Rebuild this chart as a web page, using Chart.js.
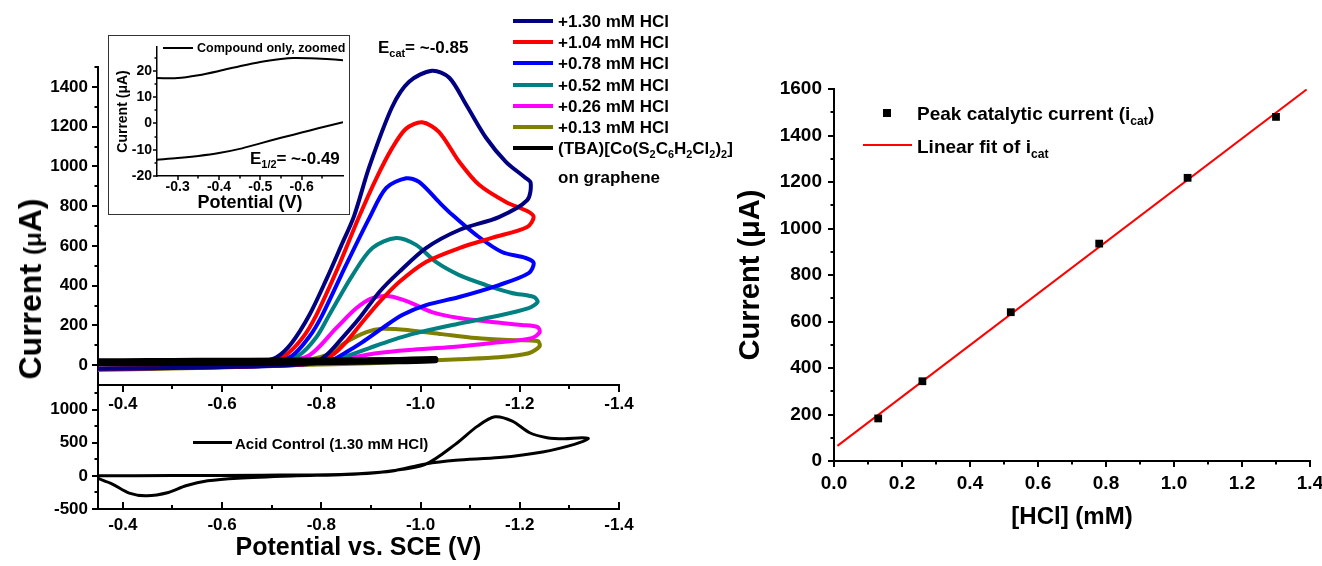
<!DOCTYPE html>
<html>
<head>
<meta charset="utf-8">
<title>Catalytic current vs HCl</title>
<script src="https://cdn.jsdelivr.net/npm/chart.js@4.4.0/dist/chart.umd.min.js"></script>
<style>
  html, body { margin: 0; padding: 0; background: #fff; overflow: hidden; }
  body { position: relative; width: 1322px; height: 566px;
         font-family: "Liberation Sans", Arial, sans-serif; color: #000; }
  canvas { position: absolute; }
  .inset { position: absolute; left: 108px; top: 35px; width: 242px; height: 180px;
           box-sizing: border-box; border: 1px solid #333; background: #fff; }
  .inset canvas { left: 0; top: -10px; }
  .lbl { position: absolute; white-space: nowrap; font-weight: bold; line-height: 1;
         transform: translateY(-50%); }
  .lbl sub { font-size: 0.64em; line-height: 0; vertical-align: -0.42em; }
  .swatch { position: absolute; }
  .ytitle { position: absolute; white-space: nowrap; font-weight: bold; font-size: 32px; line-height: 1;
            transform: translate(-50%, -50%) rotate(-90deg); }
</style>
</head>
<body>
<canvas id="cvMain" width="680" height="430" style="left:0;top:0"></canvas>
<canvas id="cvAcid" width="680" height="211" style="left:0;top:355px"></canvas>
<div class="inset"><canvas id="cvInset" width="240" height="188"></canvas></div>
<canvas id="cvFit" width="660" height="566" style="left:690px;top:0"></canvas>

<div class="ytitle" style="left:30px;top:289px">Current <span style="font-size:24px">(μ</span>A)</div>
<div class="lbl" style="left:378px;top:47px;font-size:17px">E<sub>cat</sub>= ~-0.85</div>
<div class="lbl" style="left:250px;top:158px;font-size:17px">E<sub>1/2</sub>= ~-0.49</div>
<div class="swatch" style="left:163px;top:47px;width:30px;height:2px;background:#000"></div>
<div class="lbl" style="left:197px;top:48px;font-size:12.5px">Compound only, zoomed</div>
<div class="swatch" style="left:193px;top:441px;width:39px;height:3px;background:#000"></div>
<div class="lbl" style="left:235px;top:443px;font-size:15px">Acid Control (1.30 mM HCl)</div>
<div class="swatch" style="left:883px;top:109px;width:8px;height:8px;background:#000"></div>
<div class="lbl" style="left:917px;top:113px;font-size:19px">Peak catalytic current (i<sub>cat</sub>)</div>
<div class="swatch" style="left:863px;top:144px;width:49px;height:2px;background:#f00"></div>
<div class="lbl" style="left:917px;top:146px;font-size:19px">Linear fit of i<sub>cat</sub></div>
<div id="keys"></div>

<script>
// ---- CV loops on graphene, potential (V vs SCE) / current (uA) ----
const pot130 = [-0.35, -0.55, -0.68, -0.71, -0.74, -0.776, -0.81, -0.84, -0.866, -0.897, -0.943, -0.977, -1.023, -1.058, -1.092, -1.132, -1.172, -1.21, -1.222, -1.215, -1.158, -1.078, -1.011, -0.957, -0.917, -0.877, -0.842, -0.81, -0.78, -0.68, -0.5, -0.35];
const cur130 = [15, 18, 22, 40, 110, 252, 430, 600, 750, 1000, 1300, 1426, 1481, 1446, 1310, 1144, 1023, 945, 917, 830, 745, 680, 589, 469, 368, 237, 136, 50, 10, -5, -15, -18];

const pot104 = [-0.35, -0.55, -0.69, -0.725, -0.76, -0.79, -0.836, -0.875, -0.91, -0.943, -0.971, -1.003, -1.037, -1.078, -1.118, -1.172, -1.215, -1.228, -1.215, -1.144, -1.078, -1.011, -0.957, -0.917, -0.883, -0.85, -0.822, -0.79, -0.68, -0.5, -0.35];
const cur104 = [15, 18, 22, 45, 130, 252, 504, 740, 935, 1093, 1190, 1222, 1174, 1023, 907, 821, 775, 745, 695, 640, 589, 519, 418, 317, 217, 116, 50, 10, -5, -15, -18];

const pot078 = [-0.35, -0.55, -0.70, -0.74, -0.775, -0.802, -0.85, -0.897, -0.931, -0.971, -0.997, -1.037, -1.064, -1.112, -1.164, -1.212, -1.228, -1.218, -1.158, -1.078, -1.011, -0.963, -0.923, -0.883, -0.85, -0.82, -0.75, -0.6, -0.35];
const cur078 = [15, 18, 22, 45, 140, 252, 504, 741, 892, 940, 922, 821, 756, 655, 569, 539, 514, 463, 403, 343, 302, 252, 186, 116, 65, 25, 0, -10, -18];

const pot052 = [-0.35, -0.55, -0.71, -0.755, -0.79, -0.816, -0.863, -0.903, -0.951, -0.991, -1.031, -1.078, -1.132, -1.184, -1.228, -1.236, -1.218, -1.144, -1.064, -0.991, -0.943, -0.897, -0.857, -0.82, -0.75, -0.6, -0.35];
const cur052 = [15, 18, 22, 50, 140, 252, 453, 589, 640, 605, 519, 453, 403, 363, 343, 318, 287, 242, 202, 161, 126, 86, 50, 25, 5, -10, -18];

const pot026 = [-0.35, -0.55, -0.72, -0.776, -0.83, -0.871, -0.903, -0.937, -0.977, -1.023, -1.078, -1.144, -1.204, -1.236, -1.24, -1.224, -1.144, -1.064, -0.977, -0.911, -0.863, -0.8, -0.7, -0.5, -0.35];
const cur026 = [15, 18, 22, 50, 186, 287, 337, 346, 317, 267, 237, 217, 202, 191, 165, 136, 111, 91, 76, 60, 40, 25, 5, -12, -20];

const pot013 = [-0.35, -0.55, -0.75, -0.81, -0.85, -0.891, -0.923, -0.977, -1.043, -1.112, -1.178, -1.236, -1.24, -1.218, -1.158, -1.078, -1.031, -0.9, -0.75, -0.6, -0.45, -0.35];
const cur013 = [15, 18, 22, 50, 116, 166, 183, 176, 156, 136, 126, 121, 95, 60, 40, 30, 25, 10, 0, -12, -20, -25];

// compound alone, same scale
const potCpd = [-0.35, -0.45, -0.55, -0.65, -0.8, -0.95, -1.03, -1.03, -0.95, -0.8, -0.7, -0.6, -0.5, -0.4, -0.35];
const curCpd = [22, 23, 24, 25, 26, 28, 33, 22, 17, 12, 10, 9, 8, 7, 7];

const seriesLabels = ['+1.30 mM HCl', '+1.04 mM HCl', '+0.78 mM HCl', '+0.52 mM HCl', '+0.26 mM HCl', '+0.13 mM HCl',
  '(TBA)[Co(S<sub>2</sub>C<sub>6</sub>H<sub>2</sub>Cl<sub>2</sub>)<sub>2</sub>]'];
const seriesPot = [pot130, pot104, pot078, pot052, pot026, pot013, potCpd];
const seriesCur = [cur130, cur104, cur078, cur052, cur026, cur013, curCpd];

// acid without catalyst
const potAcid = [-0.35, -0.5, -0.68, -0.85, -0.94, -1.01, -1.07, -1.115, -1.15, -1.185, -1.22, -1.255, -1.29, -1.325, -1.338, -1.31, -1.246, -1.159, -1.071, -1.01, -0.94, -0.85, -0.75, -0.632, -0.571, -0.527, -0.492, -0.448, -0.413, -0.378, -0.35];
const curAcid = [0, 5, 10, 25, 75, 175, 475, 750, 890, 825, 650, 575, 560, 575, 560, 475, 360, 275, 235, 180, 70, 20, 0, -35, -75, -150, -250, -300, -260, -120, -40];

// zoomed compound-only scan
const potInset = [-0.25, -0.30, -0.35, -0.40, -0.45, -0.50, -0.55, -0.58, -0.62, -0.66, -0.70];
const curInsetFwd = [17.2, 17.2, 18.3, 19.9, 21.7, 23.3, 24.4, 24.8, 24.7, 24.4, 24.0];
const curInsetRev = [-13.8, -13.2, -12.4, -11.3, -9.7, -7.6, -5.5, -4.3, -2.7, -1.1, 0.4];

// peak catalytic current vs acid concentration
const hclConc = [0.13, 0.26, 0.52, 0.78, 1.04, 1.30];
const peakCurrent = [183, 343, 640, 935, 1218, 1480];
const fitConc = [0.01, 1.39];
const fitCurrent = [65, 1598];

// tick values
const potTicks = [-0.4, -0.6, -0.8, -1.0, -1.2, -1.4];
const potMinor = [-0.5, -0.7, -0.9, -1.1, -1.3];
const mainCurTicks = [0, 200, 400, 600, 800, 1000, 1200, 1400];
const mainCurMinor = [100, 300, 500, 700, 900, 1100, 1300, 1500];
const acidCurTicks = [-500, 0, 500, 1000];
const acidCurMinor = [-250, 250, 750, 1250];
const insetPotTicks = [-0.3, -0.4, -0.5, -0.6];
const insetPotMinor = [-0.35, -0.45, -0.55, -0.65];
const insetCurTicks = [-20, -10, 0, 10, 20];
const insetCurMinor = [-15, -5, 5, 15, 25];
const concTicks = [0, 0.2, 0.4, 0.6, 0.8, 1.0, 1.2, 1.4];
const concMinor = [0.1, 0.3, 0.5, 0.7, 0.9, 1.1, 1.3];
const fitCurTicks = [0, 200, 400, 600, 800, 1000, 1200, 1400, 1600];
const fitCurMinor = [100, 300, 500, 700, 900, 1100, 1300, 1500];

const seriesColors = ['#000080', '#ff0000', '#0000ff', '#008080', '#ff00ff', '#808000', '#000000'];
const FONT = "'Liberation Sans', Arial, sans-serif";

const toPoints = (xs, ys) => xs.map((x, i) => ({ x: x, y: ys[i] }));
const fmt1 = v => v.toFixed(1);
const fmt0 = v => String(v);

// origin-style major/minor tick marks, drawn from the scales
function tickMarks(marks) {
  return {
    id: 'tickMarks',
    afterDraw(chart) {
      const ctx = chart.ctx, a = chart.chartArea;
      ctx.save();
      ctx.strokeStyle = '#000';
      marks.forEach(m => {
        const s = chart.scales[m.axis];
        ctx.lineWidth = m.width;
        ctx.beginPath();
        m.values.forEach(v => {
          const p = Math.round(s.getPixelForValue(v));
          if (s.isHorizontal()) {
            const y = m.edge === 'top' ? a.top : a.bottom;
            ctx.moveTo(p, y);
            ctx.lineTo(p, y + m.dir * m.len);
          } else {
            ctx.moveTo(a.left, p);
            ctx.lineTo(a.left + m.dir * m.len, p);
          }
        });
        ctx.stroke();
      });
      ctx.restore();
    }
  };
}

function axis(o) {
  return {
    type: 'linear', min: o.min, max: o.max, reverse: !!o.reverse,
    grid: { display: false, drawTicks: false },
    border: { display: true, color: '#000', width: o.bw || 2 },
    title: o.title
      ? { display: true, text: o.title, color: '#000', padding: o.titlePad || 0,
          font: { family: FONT, size: o.titleSize, weight: 'bold' } }
      : { display: false },
    ticks: { color: '#000', padding: o.pad, autoSkip: false, maxRotation: 0, callback: o.fmt,
             font: { family: FONT, size: o.size, weight: 'bold' } },
    afterBuildTicks: s => { s.ticks = o.ticks.map(value => ({ value })); },
    afterFit: s => { if (s.isHorizontal()) s.height = o.extent; else s.width = o.extent; }
  };
}

function baseOptions(padding, scales) {
  return {
    responsive: false, animation: false, devicePixelRatio: 1,
    layout: { autoPadding: false, padding: padding },
    plugins: { legend: { display: false }, tooltip: { enabled: false } },
    scales: scales
  };
}

// ---- main CV panel ----
const mainSets = seriesPot.map((pot, i) => ({
  data: toPoints(pot, seriesCur[i]),
  borderColor: seriesColors[i],
  borderWidth: i === 6 ? 5 : 4,
  showLine: true, pointRadius: 0, tension: 0.3,
  borderJoinStyle: 'round', borderCapStyle: 'round',
  order: i === 6 ? 0 : i + 1
}));

new Chart(document.getElementById('cvMain'), {
  type: 'scatter',
  data: { datasets: mainSets },
  options: baseOptions({ left: 0, top: 67, right: 61, bottom: 0 }, {
    x: axis({ min: -1.4, max: -0.35, reverse: true, ticks: potTicks, fmt: fmt1, size: 17, pad: 9, extent: 45 }),
    y: axis({ min: -100, max: 1500, ticks: mainCurTicks, fmt: fmt0, size: 17, pad: 10, extent: 98 })
  }),
  plugins: [tickMarks([
    { axis: 'y', values: mainCurTicks, len: 6, dir: -1, width: 2 },
    { axis: 'y', values: mainCurMinor, len: 3.5, dir: -1, width: 2 },
    { axis: 'x', values: potTicks, len: 7, dir: 1, width: 2 },
    { axis: 'x', values: potMinor, len: 4, dir: 1, width: 2 }
  ])]
});

// ---- acid control panel ----
new Chart(document.getElementById('cvAcid'), {
  type: 'scatter',
  data: { datasets: [{
    data: toPoints(potAcid, curAcid), borderColor: '#000', borderWidth: 3,
    showLine: true, pointRadius: 0, tension: 0.3, borderJoinStyle: 'round'
  }] },
  options: baseOptions({ left: 0, top: 30, right: 61, bottom: 3 }, {
    x: axis({ min: -1.4, max: -0.35, reverse: true, ticks: potTicks, fmt: fmt1, size: 17, pad: 6, extent: 54,
              title: 'Potential vs. SCE (V)', titleSize: 25 }),
    y: axis({ min: -500, max: 1370, ticks: acidCurTicks, fmt: fmt0, size: 17, pad: 10, extent: 98 })
  }),
  plugins: [tickMarks([
    { axis: 'y', values: acidCurTicks, len: 6, dir: -1, width: 2 },
    { axis: 'y', values: acidCurMinor, len: 3.5, dir: -1, width: 2 },
    { axis: 'x', values: potTicks, len: 7, dir: -1, width: 2 },
    { axis: 'x', values: potMinor, len: 4, dir: -1, width: 2 }
  ])]
});

// ---- zoomed inset ----
new Chart(document.getElementById('cvInset'), {
  type: 'scatter',
  data: { datasets: [curInsetFwd, curInsetRev].map(cur => ({
    data: toPoints(potInset, cur), borderColor: '#000', borderWidth: 2,
    showLine: true, pointRadius: 0, tension: 0.3
  })) },
  options: baseOptions({ left: 0, top: 21, right: 6, bottom: 0 }, {
    x: axis({ min: -0.70, max: -0.25, reverse: true, ticks: insetPotTicks, fmt: fmt1, size: 14, pad: 3, extent: 38,
              bw: 1.5, title: 'Potential (V)', titleSize: 18 }),
    y: axis({ min: -20, max: 29, ticks: insetCurTicks, fmt: fmt0, size: 14, pad: 5, extent: 48,
              bw: 1.5, title: 'Current (μA)', titleSize: 14, titlePad: 6 })
  }),
  plugins: [tickMarks([
    { axis: 'y', values: insetCurTicks, len: 4, dir: -1, width: 1.5 },
    { axis: 'y', values: insetCurMinor, len: 2.5, dir: -1, width: 1.5 },
    { axis: 'x', values: insetPotTicks, len: 4, dir: 1, width: 1.5 },
    { axis: 'x', values: insetPotMinor, len: 2.5, dir: 1, width: 1.5 }
  ])]
});

// ---- peak current vs [HCl] ----
new Chart(document.getElementById('cvFit'), {
  type: 'scatter',
  data: { datasets: [
    { data: toPoints(hclConc, peakCurrent), pointStyle: 'rect', pointRadius: 5.5, borderWidth: 0,
      backgroundColor: '#000', showLine: false, order: 0 },
    { data: toPoints(fitConc, fitCurrent), borderColor: '#ff0000', borderWidth: 2,
      showLine: true, pointRadius: 0, order: 1 }
  ] },
  options: baseOptions({ left: 40, top: 89, right: 40, bottom: 34 }, {
    x: axis({ min: 0, max: 1.4, ticks: concTicks, fmt: fmt1, size: 19, pad: 11, extent: 71,
              title: '[HCl] (mM)', titleSize: 24 }),
    y: axis({ min: 0, max: 1600, ticks: fitCurTicks, fmt: fmt0, size: 19, pad: 12, extent: 104,
              title: 'Current (μA)', titleSize: 29, titlePad: 4 })
  }),
  plugins: [tickMarks([
    { axis: 'y', values: fitCurTicks, len: 6, dir: -1, width: 2 },
    { axis: 'y', values: fitCurMinor, len: 3.5, dir: -1, width: 2 },
    { axis: 'x', values: concTicks, len: 6, dir: 1, width: 2 },
    { axis: 'x', values: concMinor, len: 3.5, dir: 1, width: 2 }
  ])]
});

// ---- legend for the CV panel ----
const keys = document.getElementById('keys');
seriesLabels.forEach((label, i) => {
  const cy = 21 + i * 21.2;
  const sw = document.createElement('div');
  sw.className = 'swatch';
  sw.style.cssText = `left:513px;top:${cy - 2}px;width:40px;height:4px;background:${seriesColors[i]}`;
  const tx = document.createElement('div');
  tx.className = 'lbl';
  tx.style.cssText = `left:558px;top:${cy}px;font-size:17px`;
  tx.innerHTML = label;
  keys.appendChild(sw);
  keys.appendChild(tx);
});
const tail = document.createElement('div');
tail.className = 'lbl';
tail.style.cssText = 'left:558px;top:177px;font-size:17px';
tail.textContent = 'on graphene';
keys.appendChild(tail);
</script>
</body>
</html>
